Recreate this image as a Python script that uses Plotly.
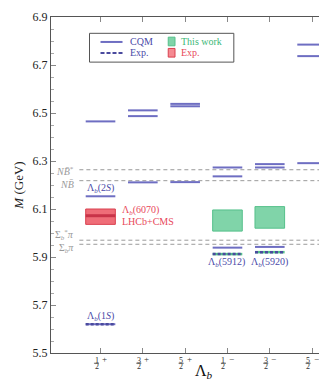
import plotly.graph_objects as go

# ---------------- data ----------------
categories = [1, 2, 3, 4, 5, 6]
cat_num = ["1", "3", "5", "1", "3", "5"]
cat_den = ["2", "2", "2", "2", "2", "2"]
cat_sign = ["+", "+", "+", "\u2212", "\u2212", "\u2212"]

# CQM predicted levels (GeV) per J^P
cqm_12p = [5.620, 6.153, 6.465]
cqm_32p = [6.211, 6.487, 6.511]
cqm_52p = [6.212, 6.528, 6.538]
cqm_12m = [5.939, 6.236, 6.273]
cqm_32m = [5.942, 6.273, 6.287]
cqm_52m = [6.291, 6.737, 6.785]
cqm_levels = [cqm_12p, cqm_32p, cqm_52p, cqm_12m, cqm_32m, cqm_52m]

# experimental states
exp_cat = [1, 4, 5]
exp_mass = [5.6196, 5.9121, 5.9202]
exp_green = [False, True, True]

# this work bands
tw_cat = [4, 5]
tw_low = [6.008, 6.020]
tw_high = [6.096, 6.110]

# Lambda_b(6070) band
l6070_cat = 1
l6070_low = 6.036
l6070_high = 6.100
l6070_mass = 6.072

# thresholds
thr_names = ["<i>N</i><i>B\u0304</i><sup>*</sup>", "<i>N</i><i>B\u0304</i>",
             "\u03a3<sub><i>b</i></sub><sup>*</sup><i>\u03c0</i>", "\u03a3<sub><i>b</i></sub><i>\u03c0</i>"]
thr_vals = [6.2636, 6.218, 5.970, 5.953]
thr_label_y = [6.257, 6.204, 5.990, 5.934]

HW = 0.35
BLUE = "#6e6ec2"
BLUE_T = "#4a4aa8"
GREEN_F = "#80d4a9"
GREEN_L = "#55c08b"
RED_F = "rgba(236,84,96,0.85)"
RED_L = "#d9404f"
GRAY = "#9a9a9a"
FONT = "Liberation Serif"

fig = go.Figure()

# thresholds
for v in thr_vals:
    fig.add_trace(go.Scatter(x=[0.5, 6.47], y=[v, v], mode="lines",
                             line=dict(color=GRAY, width=1, dash="4px,3px"),
                             showlegend=False, hoverinfo="skip"))

# this work boxes
for c, lo, hi in zip(tw_cat, tw_low, tw_high):
    fig.add_trace(go.Scatter(x=[c - HW, c + HW, c + HW, c - HW, c - HW],
                             y=[lo, lo, hi, hi, lo], mode="lines", fill="toself",
                             fillcolor=GREEN_F, line=dict(color=GREEN_L, width=1),
                             showlegend=False, hoverinfo="skip"))

# Lambda_b(6070)
c = l6070_cat
fig.add_trace(go.Scatter(x=[c - HW, c + HW, c + HW, c - HW, c - HW],
                         y=[l6070_low, l6070_low, l6070_high, l6070_high, l6070_low],
                         mode="lines", fill="toself", fillcolor=RED_F,
                         line=dict(color=RED_L, width=1), showlegend=False, hoverinfo="skip"))
fig.add_trace(go.Scatter(x=[c - HW, c + HW], y=[l6070_mass, l6070_mass], mode="lines",
                         line=dict(color="#c83348", width=3), showlegend=False, hoverinfo="skip"))

# CQM levels
for c, levels in zip(categories, cqm_levels):
    for v in levels:
        fig.add_trace(go.Scatter(x=[c - HW, c + HW], y=[v, v], mode="lines",
                                 line=dict(color=BLUE, width=2), showlegend=False,
                                 hoverinfo="skip"))

# experimental levels
for c, v, g in zip(exp_cat, exp_mass, exp_green):
    if g:
        fig.add_trace(go.Scatter(x=[c - HW, c + HW], y=[v, v], mode="lines",
                                 line=dict(color=GREEN_L, width=2.5), showlegend=False,
                                 hoverinfo="skip"))
    fig.add_trace(go.Scatter(x=[c - HW, c + HW], y=[v, v], mode="lines",
                             line=dict(color="#4a4a9e", width=2.5, dash="3px,2px"),
                             showlegend=False, hoverinfo="skip"))

annotations = []
shapes = []

# threshold labels
for n, ly in zip(thr_names, thr_label_y):
    annotations.append(dict(x=0.43, y=ly, xref="x", yref="y", text=n, showarrow=False,
                            xanchor="right", yanchor="middle",
                            font=dict(family=FONT, size=10, color=GRAY)))

# state labels
def lab(x, y, t, color, anchor="center", size=10):
    annotations.append(dict(x=x, y=y, xref="x", yref="y", text=t, showarrow=False,
                            xanchor=anchor, yanchor="middle",
                            font=dict(family=FONT, size=size, color=color)))

lab(1.0, 6.184, "\u039b<sub><i>b</i></sub>(2<i>S</i>)", BLUE_T)
lab(1.0, 5.653, "\u039b<sub><i>b</i></sub>(1<i>S</i>)", BLUE_T)
lab(1.45, 6.093, "\u039b<sub><i>b</i></sub>(6070)", "#e8485a", "left")
lab(1.45, 6.050, "LHCb+CMS", "#e8485a", "left")
lab(3.97, 5.876, "\u039b<sub><i>b</i></sub>(5912)", BLUE_T)
lab(4.99, 5.879, "\u039b<sub><i>b</i></sub>(5920)", BLUE_T)

# x tick labels as stacked fractions
for c, nu, de, sg in zip(categories, cat_num, cat_den, cat_sign):
    annotations.append(dict(x=c, y=0, xref="x", yref="paper", text=nu, showarrow=False,
                            xanchor="center", yanchor="middle", xshift=-4, yshift=-7.5,
                            font=dict(family=FONT, size=8, color="#333")))
    annotations.append(dict(x=c, y=0, xref="x", yref="paper", text=de, showarrow=False,
                            xanchor="center", yanchor="middle", xshift=-4, yshift=-13.5,
                            font=dict(family=FONT, size=8, color="#333")))
    annotations.append(dict(x=c, y=0, xref="x", yref="paper", text=sg, showarrow=False,
                            xanchor="center", yanchor="middle", xshift=4, yshift=-6,
                            font=dict(family=FONT, size=9, color="#333")))
    shapes.append(dict(type="line", xref="x", yref="paper", x0=c - 0.155, x1=c - 0.035,
                       y0=-0.0305, y1=-0.0305, line=dict(color="#444", width=0.8)))

# x-axis title
annotations.append(dict(x=3.45, y=0, xref="x", yref="paper", text="\u039b<sub><i>b</i></sub>",
                        showarrow=False, xanchor="center", yanchor="middle", yshift=-18,
                        font=dict(family=FONT, size=16, color="#111")))

# legend (manual)
shapes.append(dict(type="rect", xref="x", yref="y", x0=0.74, x1=4.15, y0=6.712, y1=6.832,
                   line=dict(color="#555", width=1), fillcolor="white", layer="above"))
shapes.append(dict(type="line", xref="x", yref="y", x0=1.0, x1=1.52, y0=6.796, y1=6.796,
                   line=dict(color=BLUE, width=2), layer="above"))
shapes.append(dict(type="line", xref="x", yref="y", x0=1.0, x1=1.52, y0=6.750, y1=6.750,
                   line=dict(color="#4a4a9e", width=2, dash="4px,2px"), layer="above"))
shapes.append(dict(type="rect", xref="x", yref="y", x0=2.60, x1=2.76, y0=6.780, y1=6.816,
                   line=dict(color=GREEN_L, width=1), fillcolor=GREEN_F, layer="above"))
shapes.append(dict(type="rect", xref="x", yref="y", x0=2.60, x1=2.76, y0=6.733, y1=6.769,
                   line=dict(color=RED_L, width=1), fillcolor="#f58a92", layer="above"))
annotations.append(dict(x=1.64, y=6.799, xref="x", yref="y", text="CQM", showarrow=False,
                        xanchor="left", yanchor="middle", font=dict(family=FONT, size=10, color=BLUE_T)))
annotations.append(dict(x=1.64, y=6.753, xref="x", yref="y", text="Exp.", showarrow=False,
                        xanchor="left", yanchor="middle", font=dict(family=FONT, size=10, color=BLUE_T)))
annotations.append(dict(x=2.86, y=6.799, xref="x", yref="y", text="This work", showarrow=False,
                        xanchor="left", yanchor="middle", font=dict(family=FONT, size=10, color="#3cb878")))
annotations.append(dict(x=2.86, y=6.753, xref="x", yref="y", text="Exp.", showarrow=False,
                        xanchor="left", yanchor="middle", font=dict(family=FONT, size=10, color="#e8485a")))

fig.update_layout(
    width=327, height=381,
    margin=dict(l=43, r=2, t=7, b=36),
    paper_bgcolor="white", plot_bgcolor="white",
    showlegend=False,
    annotations=annotations, shapes=shapes,
    font=dict(family=FONT, size=11, color="#222"),
    xaxis=dict(range=[-0.17, 6.47], tickvals=categories, ticktext=[""] * 6,
               ticks="inside", ticklen=5, tickcolor="#888", showgrid=False, zeroline=False,
               showline=True, linecolor="#555", linewidth=1, mirror="ticks"),
    yaxis=dict(range=[5.5, 6.9], tick0=5.5, dtick=0.2, tickformat=".1f",
               ticks="inside", ticklen=5, tickcolor="#888", showgrid=False, zeroline=False,
               showline=True, linecolor="#555", linewidth=1, mirror="ticks",
               tickfont=dict(family=FONT, size=12, color="#222"),
               minor=dict(dtick=0.05, ticks="inside", ticklen=3, tickcolor="#aaa"),
               title=dict(text="<i>M</i> (GeV)", font=dict(family=FONT, size=13, color="#222"),
                          standoff=6)),
)

fig.write_html("out.html")
